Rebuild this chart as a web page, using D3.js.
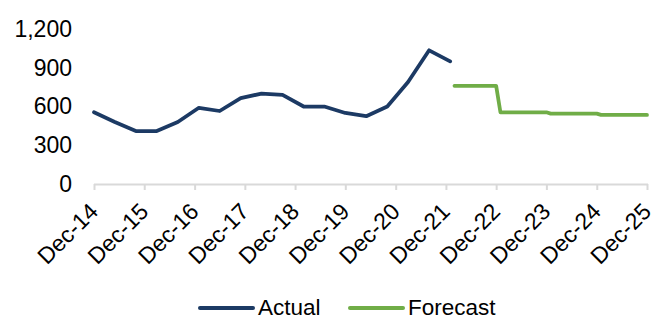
<!DOCTYPE html>
<html>
<head>
<meta charset="utf-8">
<script src="https://cdn.jsdelivr.net/npm/d3@7"></script>
<style>
  html, body { margin: 0; padding: 0; background: #fff; }
  svg { display: block; font-family: "Liberation Sans", Arial, sans-serif; }
</style>
</head>
<body>
<svg id="chart" width="665" height="320"></svg>
<script>
// Actual series: observations every five months (YYYY-MM)
const actualDates = ["2014-12","2015-05","2015-10","2016-03","2016-08","2017-01",
  "2017-06","2017-11","2018-04","2018-09","2019-02","2019-07","2019-12","2020-05",
  "2020-10","2021-03","2021-08","2022-01"];
const actualValues = [555, 480, 410, 410, 480, 590, 565, 665, 700, 690, 600, 600,
  550, 525, 600, 790, 1035, 950];

// Forecast series: yearly step levels
const forecastDates = ["2022-02","2022-12","2023-01","2023-12","2024-01","2024-12","2025-01","2025-12"];
const forecastValues = [760, 760, 555, 555, 545, 545, 535, 535];

// Axis ticks
const xTickDates = ["2014-12","2015-12","2016-12","2017-12","2018-12","2019-12",
  "2020-12","2021-12","2022-12","2023-12","2024-12","2025-12"];
const yTicks = [0, 300, 600, 900, 1200];

const seriesNames = ["Actual", "Forecast"];
const seriesColors = ["#1c3a64", "#70ad47"];

const parse = d3.timeParse("%Y-%m");
const fmtTick = d3.timeFormat("%b-%y");

const svg = d3.select("#chart");
const plotLeft = 94, plotRight = 647, plotTop = 29, plotBottom = 184;

const x = d3.scaleTime()
  .domain([parse("2014-12"), parse("2025-12")])
  .range([plotLeft, plotRight]);
const y = d3.scaleLinear().domain([0, 1200]).range([plotBottom, plotTop]);

// Y axis labels (no line, no ticks)
const yAxis = svg.append("g")
  .attr("transform", `translate(${plotLeft},0)`)
  .call(d3.axisLeft(y).tickValues(yTicks).tickFormat(d3.format(",")).tickSize(0).tickPadding(22));
yAxis.select(".domain").remove();
yAxis.selectAll("text")
  .attr("font-size", "23px")
  .attr("fill", "#000")
  .attr("font-family", "Liberation Sans, Arial, sans-serif");

// X axis
const xAxis = svg.append("g")
  .attr("transform", `translate(0,${plotBottom})`)
  .call(d3.axisBottom(x).tickValues(xTickDates.map(parse)).tickFormat(fmtTick).tickSizeOuter(0).tickSize(6));
xAxis.select(".domain")
  .attr("d", `M${plotLeft},0.5H${plotRight + 1}`)
  .attr("stroke", "#d9d9d9").attr("stroke-width", 2);
xAxis.selectAll(".tick line").attr("stroke", "#d9d9d9").attr("stroke-width", 2);
xAxis.selectAll(".tick text")
  .attr("font-size", "23px")
  .attr("fill", "#000")
  .attr("font-family", "Liberation Sans, Arial, sans-serif")
  .attr("text-anchor", "end")
  .attr("dy", null)
  .attr("y", null)
  .attr("transform", "translate(5,29) rotate(-45)");

const line = d3.line().x(d => x(d[0])).y(d => y(d[1]));

const actual = actualDates.map((d, i) => [parse(d), actualValues[i]]);
const forecast = forecastDates.map((d, i) => [parse(d), forecastValues[i]]);

svg.append("path").datum(actual)
  .attr("d", line)
  .attr("fill", "none")
  .attr("stroke", seriesColors[0])
  .attr("stroke-width", 3.75)
  .attr("stroke-linejoin", "round")
  .attr("stroke-linecap", "round");

svg.append("path").datum(forecast)
  .attr("d", line)
  .attr("fill", "none")
  .attr("stroke", seriesColors[1])
  .attr("stroke-width", 3.75)
  .attr("stroke-linejoin", "round")
  .attr("stroke-linecap", "round");

// Legend
const legendX = [200, 350];
const legend = svg.append("g");
seriesNames.forEach((name, i) => {
  legend.append("line")
    .attr("x1", legendX[i]).attr("x2", legendX[i] + 53)
    .attr("y1", 308).attr("y2", 308)
    .attr("stroke", seriesColors[i])
    .attr("stroke-width", 4)
    .attr("stroke-linecap", "round");
  legend.append("text")
    .attr("x", legendX[i] + 58).attr("y", 315)
    .attr("font-size", "22.5px")
    .attr("fill", "#000")
    .text(name);
});
</script>
</body>
</html>
